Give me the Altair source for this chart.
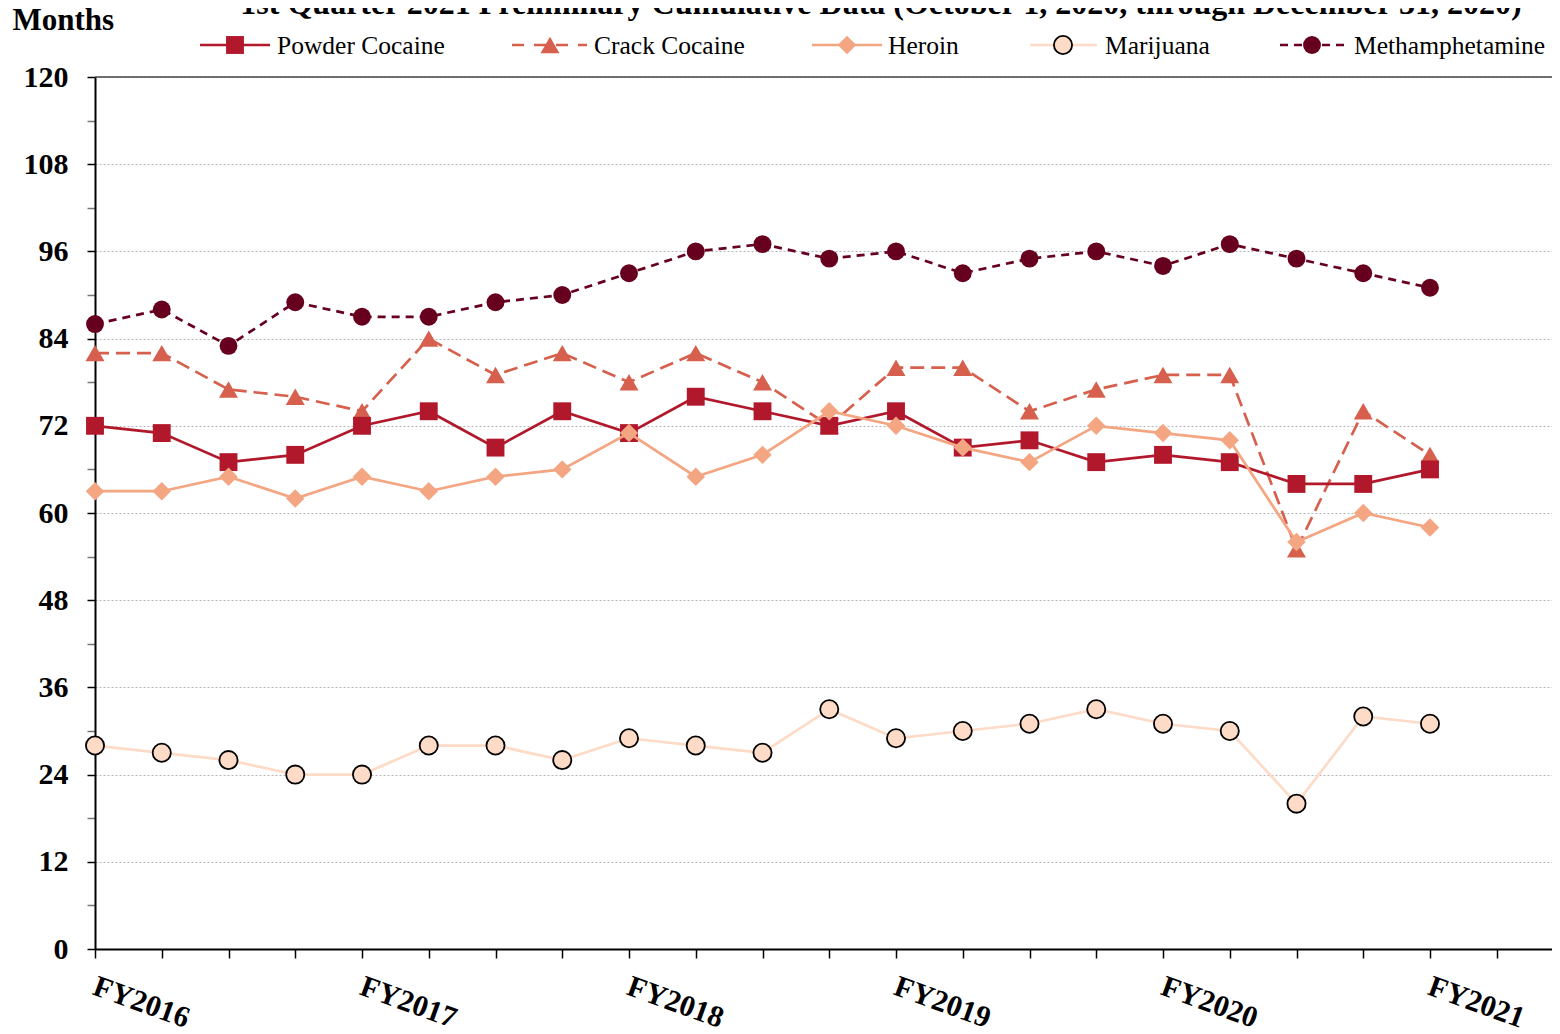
import json
import altair as alt
import pandas as pd

# ---------------- data ----------------
quarters = list(range(21))  # FY2016 Q1 ... FY2021 Q1
fy_labels = ["FY2016", "FY2017", "FY2018", "FY2019", "FY2020", "FY2021"]

powder_cocaine = [72, 71, 67, 68, 72, 74, 69, 74, 71, 76, 74, 72, 74, 69, 70, 67, 68, 67, 64, 64, 66]
crack_cocaine = [82, 82, 77, 76, 74, 84, 79, 82, 78, 82, 78, 72, 80, 80, 74, 77, 79, 79, 55, 74, 68]
heroin = [63, 63, 65, 62, 65, 63, 65, 66, 71, 65, 68, 74, 72, 69, 67, 72, 71, 70, 56, 60, 58]
marijuana = [28, 27, 26, 24, 24, 28, 28, 26, 29, 28, 27, 33, 29, 30, 31, 33, 31, 30, 20, 32, 31]
methamphetamine = [86, 88, 83, 89, 87, 87, 89, 90, 93, 96, 97, 95, 96, 93, 95, 96, 94, 97, 95, 93, 91]

series_names = ["Powder Cocaine", "Crack Cocaine", "Heroin", "Marijuana", "Methamphetamine"]
series_values = [powder_cocaine, crack_cocaine, heroin, marijuana, methamphetamine]

title_text = "1st Quarter 2021 Preliminary Cumulative Data (October 1, 2020, through December 31, 2020)"
y_title = "Months"

rows = []
for name, vals in zip(series_names, series_values):
    for q, v in zip(quarters, vals):
        rows.append({"q": q, "drug": name, "v": v})
df = pd.DataFrame(rows)

# ---------------- styles ----------------
FONT = "Liberation Serif"
W, H = 1457, 872
XMAX = W / 66.75

styles = {
    "Powder Cocaine": dict(color="#B2182B", shape="square", size=320, dash=None, stroke=None),
    "Crack Cocaine": dict(color="#D6604D", shape="triangle-up", size=360, dash=[14, 7], stroke=None),
    "Heroin": dict(color="#F4A582", shape="diamond", size=340, dash=None, stroke=None),
    "Marijuana": dict(color="#FDDBC7", shape="circle", size=330, dash=None, stroke="black"),
    "Methamphetamine": dict(color="#67001F", shape="circle", size=320, dash=[8, 6], stroke=None),
}
draw_order = ["Crack Cocaine", "Powder Cocaine", "Heroin", "Marijuana", "Methamphetamine"]
# legend layout (plot coordinates): line start, line end, marker, text
legend_pos = {
    "Powder Cocaine": (105, 175, 140, 182),
    "Crack Cocaine": (417, 492, 455, 499),
    "Heroin": (717, 787, 752, 793),
    "Marijuana": (935, 1002, 968, 1010),
    "Methamphetamine": (1185, 1250, 1217, 1259),
}
LEGEND_Y = -32

x_label_expr = (
    "datum.value % 4 == 0 ? " + json.dumps(fy_labels) + "[datum.value / 4] : ''"
)

X = alt.X(
    "q:Q",
    scale=alt.Scale(domain=[0, XMAX], nice=False, zero=False),
    axis=alt.Axis(
        values=list(range(0, 22)),
        labelExpr=x_label_expr,
        labelAngle=20,
        labelAlign="left",
        labelBaseline="top",
        labelPadding=13,
        labelOffset=4,
        labelFlush=False,
        labelOverlap=False,
        labelFont=FONT,
        labelFontSize=30,
        labelFontWeight="bold",
        labelColor="black",
        tickSize=9,
        tickWidth=1.5,
        tickColor="black",
        domainColor="black",
        domainWidth=2,
        grid=False,
        title=None,
    ),
)

Y = alt.Y(
    "v:Q",
    scale=alt.Scale(domain=[0, 120], nice=False),
    axis=alt.Axis(
        values=list(range(0, 121, 6)),
        labelExpr="datum.value % 12 == 0 ? datum.label : ''",
        labelFont=FONT,
        labelFontSize=30,
        labelFontWeight="bold",
        labelColor="black",
        labelPadding=19,
        tickSize=8,
        tickWidth=1.5,
        tickColor={"condition": {"test": "datum.value % 12 != 0", "value": "#777777"}, "value": "black"},
        domainColor="black",
        domainWidth=2,
        grid=True,
        gridColor="#b5b5b5",
        gridDash=[2, 2],
        gridWidth=1,
        gridOpacity={"condition": {"test": "datum.value % 12 != 0 || datum.value == 0", "value": 0}, "value": 1},
        title=y_title,
        titleAngle=0,
        titleAlign="left",
        titleBaseline="alphabetic",
        titleX=-83,
        titleY=-48,
        titleFont=FONT,
        titleFontSize=31,
        titleFontWeight="bold",
        titleColor="black",
    ),
)

layers = []

# top border line at 120
top_rule = alt.Chart(pd.DataFrame({"v": [120]})).mark_rule(color="#444444", strokeWidth=1.5).encode(
    y=Y, x=alt.value(0), x2=alt.value(W)
)
layers.append(top_rule)

for name in draw_order:
    s = styles[name]
    base = alt.Chart(df).transform_filter(alt.datum.drug == name)
    line_kw = dict(color=s["color"], strokeWidth=2.7)
    if s["dash"]:
        line_kw["strokeDash"] = s["dash"]
    layers.append(base.mark_line(**line_kw).encode(x=X, y=Y))
    pt_kw = dict(shape=s["shape"], size=s["size"], filled=True, fill=s["color"], opacity=1, fillOpacity=1)
    if s["stroke"]:
        pt_kw.update(stroke=s["stroke"], strokeWidth=1.8)
    else:
        pt_kw.update(strokeWidth=0)
    layers.append(base.mark_point(**pt_kw).encode(x=X, y=Y))

# legend
for name in series_names:
    s = styles[name]
    x0, x1, xm, xt = legend_pos[name]
    one = alt.Chart(pd.DataFrame({"drug": [name]}))
    rule_kw = dict(color=s["color"], strokeWidth=2.7)
    if s["dash"]:
        rule_kw["strokeDash"] = s["dash"] if name != "Crack Cocaine" else [12, 10]
    layers.append(one.mark_rule(**rule_kw).encode(x=alt.value(x0), x2=alt.value(x1), y=alt.value(LEGEND_Y)))
    pt_kw = dict(shape=s["shape"], size=s["size"], filled=True, fill=s["color"], opacity=1, fillOpacity=1)
    if s["stroke"]:
        pt_kw.update(stroke=s["stroke"], strokeWidth=1.8)
    else:
        pt_kw.update(strokeWidth=0)
    layers.append(one.mark_point(**pt_kw).encode(x=alt.value(xm), y=alt.value(LEGEND_Y)))
    layers.append(
        one.mark_text(font=FONT, fontSize=25.5, align="left", baseline="middle", color="black").encode(
            x=alt.value(xt), y=alt.value(LEGEND_Y + 1), text="drug:N"
        )
    )

# title (partially cut off at the top, as in the reference)
layers.append(
    alt.Chart(pd.DataFrame({"t": [title_text]}))
    .mark_text(font=FONT, fontSize=32, fontWeight="bold", align="center", baseline="alphabetic", color="black")
    .encode(x=alt.value(786), y=alt.value(-63), text="t:N")
)

chart = (
    alt.layer(*layers)
    .properties(
        width=W,
        height=H,
        autosize=alt.AutoSizeParams(type="none"),
        padding={"left": 87, "top": 69, "right": 0, "bottom": 84},
        background="white",
    )
    .configure_view(stroke=None)
)

chart.save("out.html", embed_options={"renderer": "svg", "actions": False})
